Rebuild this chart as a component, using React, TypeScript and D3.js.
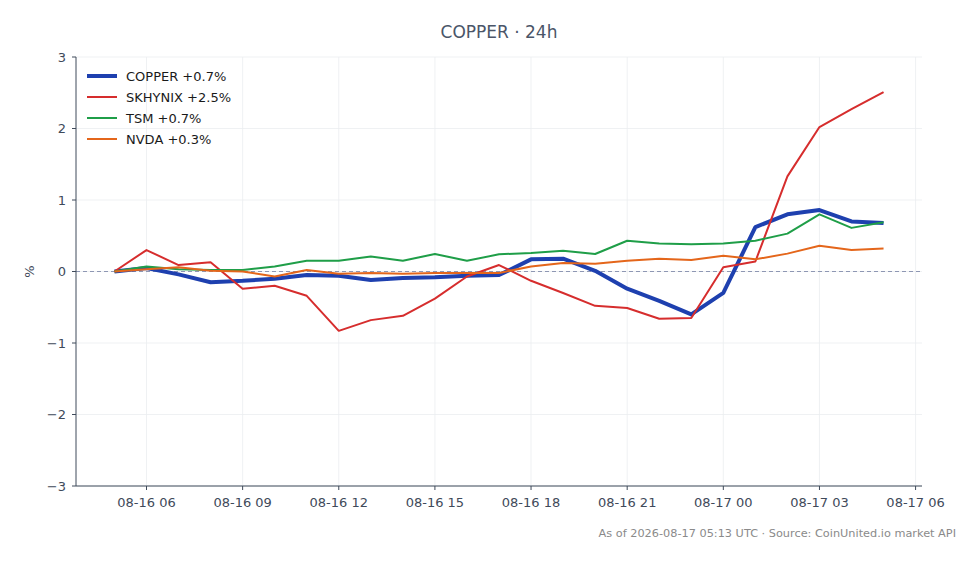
import * as d3 from "d3";

const times = [
	"2026-08-16T05:00Z", "2026-08-16T06:00Z", "2026-08-16T07:00Z", "2026-08-16T08:00Z",
	"2026-08-16T09:00Z", "2026-08-16T10:00Z", "2026-08-16T11:00Z", "2026-08-16T12:00Z",
	"2026-08-16T13:00Z", "2026-08-16T14:00Z", "2026-08-16T15:00Z", "2026-08-16T16:00Z",
	"2026-08-16T17:00Z", "2026-08-16T18:00Z", "2026-08-16T19:00Z", "2026-08-16T20:00Z",
	"2026-08-16T21:00Z", "2026-08-16T22:00Z", "2026-08-16T23:00Z", "2026-08-17T00:00Z",
	"2026-08-17T01:00Z", "2026-08-17T02:00Z", "2026-08-17T03:00Z", "2026-08-17T04:00Z",
	"2026-08-17T05:00Z",
];

const copper = [0, 0.05, -0.04, -0.15, -0.13, -0.1, -0.05, -0.06, -0.12, -0.09, -0.08, -0.06, -0.05, 0.17, 0.18, 0.01, -0.24, -0.41, -0.6, -0.3, 0.62, 0.8, 0.86, 0.7, 0.68];
const skhynix = [0, 0.3, 0.09, 0.13, -0.24, -0.2, -0.34, -0.83, -0.68, -0.62, -0.38, -0.07, 0.09, -0.13, -0.3, -0.48, -0.51, -0.66, -0.65, 0.06, 0.14, 1.33, 2.02, 2.27, 2.51];
const tsm = [0, 0.07, 0.03, 0.02, 0.02, 0.07, 0.15, 0.15, 0.21, 0.15, 0.245, 0.15, 0.24, 0.26, 0.29, 0.245, 0.43, 0.39, 0.38, 0.39, 0.43, 0.53, 0.8, 0.61, 0.69];
const nvda = [0, 0.03, 0.06, 0.01, 0, -0.07, 0.02, -0.03, -0.02, -0.03, -0.02, -0.02, -0.02, 0.07, 0.12, 0.11, 0.15, 0.18, 0.16, 0.22, 0.17, 0.25, 0.36, 0.3, 0.32];

const seriesNames = ["COPPER +0.7%", "SKHYNIX +2.5%", "TSM +0.7%", "NVDA +0.3%"];
const seriesValues = [copper, skhynix, tsm, nvda];
const seriesColors = ["#1e40af", "#d62d2d", "#1f9e48", "#e4661b"];
const seriesWidths = [4, 2, 2, 2];
const yTicks = [-3, -2, -1, 0, 1, 2, 3];

const width = 980;
const height = 564;
const margin = { top: 57, right: 58, bottom: 78, left: 76 };
const font = "'DejaVu Sans', sans-serif";
const tickColor = "#3f4a5a";

function App() {
	const dates = times.map((t) => new Date(t));
	const pad = (+dates[dates.length - 1] - +dates[0]) * 0.05;
	const x = d3
		.scaleUtc()
		.domain([new Date(+dates[0] - pad), new Date(+dates[dates.length - 1] + pad)])
		.range([margin.left, width - margin.right]);
	const y = d3
		.scaleLinear()
		.domain([-3, 3])
		.range([height - margin.bottom, margin.top]);
	const xTicks = x.ticks(d3.utcHour.every(3) as any);
	const fmt = d3.utcFormat("%m-%d %H");
	const line = d3
		.line<number>()
		.x((_, i) => x(dates[i]))
		.y((v) => y(v));
	const bottom = height - margin.bottom;
	const right = width - margin.right;

	return (
		<svg
			width={width}
			height={height}
			style={{ position: "absolute", left: 0, top: 0, background: "#fff" }}
			fontFamily={font}
		>
			<text x={(margin.left + right) / 2} y={38} textAnchor="middle" fontSize={17} fill="#4a5568">
				COPPER · 24h
			</text>
			<g>
				{yTicks.map((t) => (
					<line key={"gy" + t} x1={margin.left} x2={right} y1={y(t)} y2={y(t)} stroke="#ebedf0" strokeWidth={0.8} />
				))}
				{xTicks.map((t) => (
					<line key={"gx" + +t} x1={x(t)} x2={x(t)} y1={margin.top} y2={bottom} stroke="#ebedf0" strokeWidth={0.8} />
				))}
			</g>
			<line x1={margin.left} x2={right} y1={y(0)} y2={y(0)} stroke="#8e97b3" strokeWidth={1} strokeDasharray="4,3" />
			<g fill="none" strokeLinejoin="round" strokeLinecap="butt">
				{seriesValues.map((vals, i) => (
					<path key={seriesNames[i]} d={line(vals) as string} stroke={seriesColors[i]} strokeWidth={seriesWidths[i]} />
				))}
			</g>
			<g stroke={tickColor} strokeWidth={1}>
				<line x1={margin.left} x2={margin.left} y1={margin.top} y2={bottom} />
				<line x1={margin.left} x2={right} y1={bottom} y2={bottom} />
				{yTicks.map((t) => (
					<line key={"ty" + t} x1={margin.left - 4} x2={margin.left} y1={y(t)} y2={y(t)} />
				))}
				{xTicks.map((t) => (
					<line key={"tx" + +t} x1={x(t)} x2={x(t)} y1={bottom} y2={bottom + 4} />
				))}
			</g>
			<g fontSize={13} fill={tickColor}>
				{yTicks.map((t) => (
					<text key={"ly" + t} x={margin.left - 10} y={y(t)} dy="0.35em" textAnchor="end">
						{t < 0 ? "\u2212" + Math.abs(t) : String(t)}
					</text>
				))}
				{xTicks.map((t) => (
					<text key={"lx" + +t} x={x(t)} y={bottom + 21} textAnchor="middle">
						{fmt(t)}
					</text>
				))}
				<text transform={`translate(34, ${y(0)}) rotate(-90)`} textAnchor="middle">
					%
				</text>
			</g>
			<g fontSize={13} fill="#1a1a1a">
				{seriesNames.map((name, i) => (
					<g key={"lg" + name} transform={`translate(87, ${76 + i * 21})`}>
						<line x1={0} x2={30} y1={0} y2={0} stroke={seriesColors[i]} strokeWidth={seriesWidths[i]} />
						<text x={39} y={0} dy="0.35em">
							{name}
						</text>
					</g>
				))}
			</g>
			<text x={956} y={537} textAnchor="end" fontSize={11.3} fill="#8a8a8a">
				As of 2026-08-17 05:13 UTC · Source: CoinUnited.io market API
			</text>
		</svg>
	);
}

export default App;
